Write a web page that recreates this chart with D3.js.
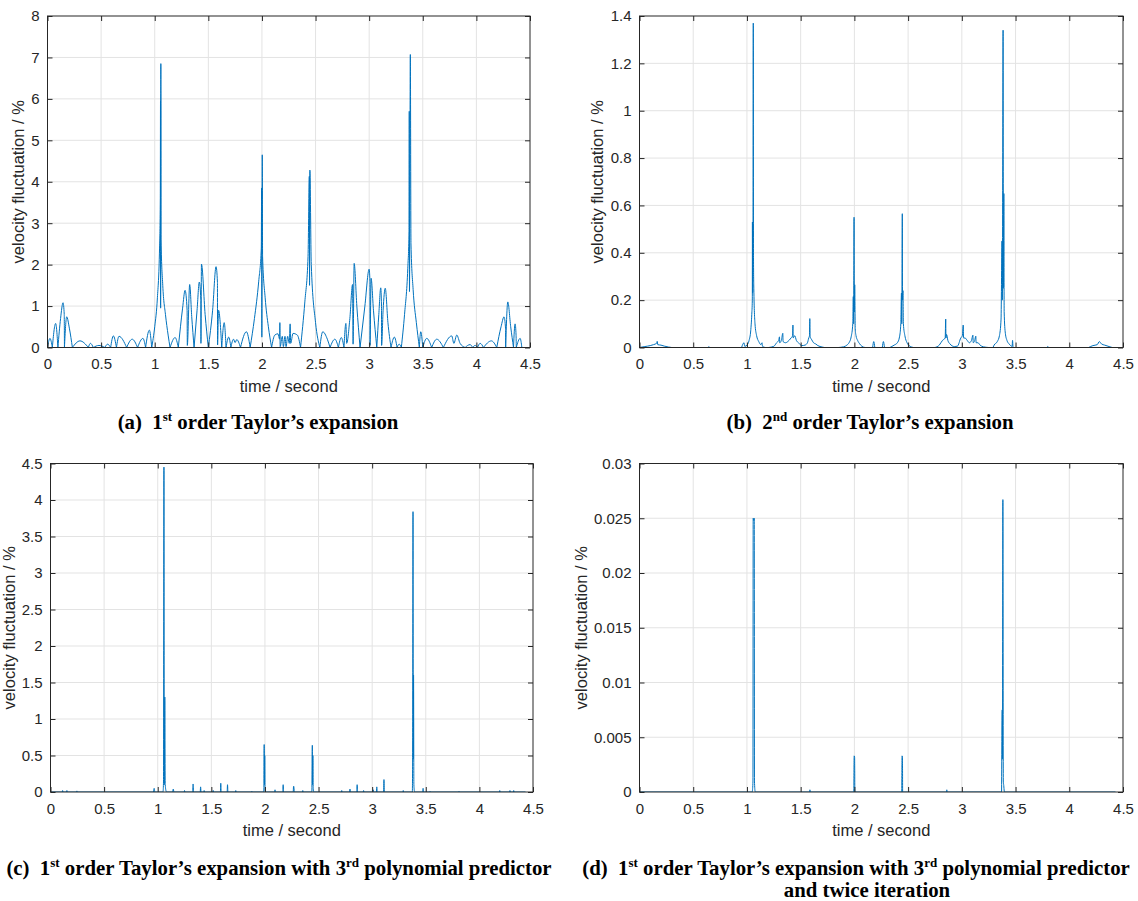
<!DOCTYPE html>
<html>
<head>
<meta charset="utf-8">
<script src="https://cdn.jsdelivr.net/npm/d3@7"></script>
<style>
  body { margin: 0; background: #fff; }
  svg text { font-family: "Liberation Sans", Arial, Helvetica, sans-serif; fill: #262626; }
  svg text.caption { font-family: "Liberation Serif", "Times New Roman", serif; font-weight: bold; fill: #000; white-space: pre; }
</style>
</head>
<body>
<svg id="chart" width="1138" height="901"></svg>
<script>
// ---- tick values ----
const timeTicks = [0, 0.5, 1, 1.5, 2, 2.5, 3, 3.5, 4, 4.5];
const ticksA = [0, 1, 2, 3, 4, 5, 6, 7, 8];
const ticksB = [0, 0.2, 0.4, 0.6, 0.8, 1, 1.2, 1.4];
const ticksC = [0, 0.5, 1, 1.5, 2, 2.5, 3, 3.5, 4, 4.5];
const ticksD = [0, 0.005, 0.01, 0.015, 0.02, 0.025, 0.03];

// ---- velocity fluctuation series: [time (s), fluctuation (%)] ----
// (a) 1st order Taylor's expansion
const seriesA = [
  [0,0],[0.023,0.22],[0.045,0],
  [0.076,0.58],[0.097,0],
  [0.122,0.7],[0.145,1.08],[0.156,0.8],[0.158,0],
  [0.179,0.74],[0.205,0.45],[0.232,0],
  [0.303,0.16],[0.381,0],
  [0.40,0.1],[0.427,0],
  [0.48,0.05],[0.536,0],
  [0.56,0.08],[0.589,0],
  [0.614,0.28],[0.643,0],
  [0.667,0.27],[0.738,0],
  [0.79,0.2],[0.84,0],
  [0.89,0.22],[0.915,0],
  [0.95,0.42],[0.972,0],
  [1.0,0.5],[1.025,1.2],[1.045,2.4],[1.052,3.6],[1.054,5.95],[1.055,0.95],[1.057,6.85],[1.059,2.6],[1.075,1.5],[1.1,0.8],[1.125,0.3],[1.143,0],
  [1.19,0.24],[1.22,0],
  [1.26,0.95],[1.283,1.38],[1.302,0.9],[1.304,0.05],[1.326,1.52],[1.345,0.75],[1.367,0],
  [1.395,0.9],[1.416,1.58],[1.43,1.15],[1.431,0.1],[1.436,2.01],[1.47,0.8],[1.5,0],
  [1.54,0.9],[1.572,1.95],[1.585,1.57],[1.586,0.06],[1.595,0.9],[1.625,0],
  [1.648,0.6],[1.665,0],
  [1.69,0.25],[1.71,0],
  [1.735,0.2],[1.75,0.12],[1.765,0.19],[1.8,0],
  [1.855,0.38],[1.89,0],
  [1.93,0.7],[1.97,1.6],[1.994,2.4],[1.997,3.85],[1.999,0.25],[2.003,4.65],[2.006,2.2],[2.03,1.2],[2.06,0.5],[2.09,0],
  [2.12,0.3],[2.15,0.33],[2.165,0.2],[2.167,0.6],[2.17,0.02],[2.19,0.27],[2.2,0.02],[2.215,0.27],[2.225,0.02],[2.24,0.27],[2.255,0.1],[2.263,0.57],[2.268,0.1],[2.29,0.34],[2.33,0.3],[2.36,0],
  [2.4,1.1],[2.43,2.2],[2.442,4.13],[2.444,1.5],[2.447,4.28],[2.46,2.0],[2.5,0.6],[2.54,0],
  [2.567,0.38],[2.61,0.2],[2.635,0],
  [2.68,0.2],[2.713,0],
  [2.74,0.24],[2.765,0],
  [2.783,0.58],[2.79,0.1],[2.82,0.7],[2.845,1.52],[2.85,0.08],[2.86,2.03],[2.885,1.0],[2.915,0],
  [2.96,1.0],[3.0,1.89],[3.007,1.6],[3.008,0.05],[3.018,1.67],[3.04,0.9],[3.071,0],
  [3.09,0.8],[3.108,1.44],[3.115,1.0],[3.116,0.05],[3.13,0.9],[3.15,1.43],[3.175,0.6],[3.204,0],
  [3.235,0.25],[3.26,0],
  [3.28,0.08],[3.3,0],
  [3.33,0.8],[3.36,1.9],[3.372,2.8],[3.374,5.7],[3.376,1.35],[3.384,7.07],[3.39,2.5],[3.41,1.4],[3.44,0.6],[3.468,0],
  [3.481,0.38],[3.5,0],
  [3.537,0.22],[3.583,0],
  [3.63,0.2],[3.692,0],
  [3.77,0.28],[3.79,0.1],[3.817,0.3],[3.848,0.1],[3.895,0],
  [3.941,0.07],[3.965,0],
  [3.988,0.05],[4.01,0],
  [4.035,0.1],[4.066,0],
  [4.14,0.16],[4.19,0],
  [4.23,0.5],[4.258,0.74],[4.272,0.45],[4.273,0],
  [4.293,1.1],[4.32,0.5],[4.346,0],
  [4.361,0.57],[4.37,0.3],[4.372,0],
  [4.408,0.22],[4.424,0]
];

// (b) 2nd order Taylor's expansion
const seriesB = [
  [0,0],[0.05,0.004],[0.1,0.008],[0.13,0.012],[0.16,0.018],[0.165,0.026],[0.17,0.012],[0.2,0.01],[0.23,0.006],[0.27,0.002],[0.3,0],
  [0.64,0],[0.645,0.004],[0.65,0],
  [0.95,0],[0.973,0.02],[0.98,0.005],[1.0,0.01],[1.02,0.03],[1.035,0.07],[1.045,0.14],[1.05,0.2],[1.051,0.53],[1.053,0.23],[1.056,0.3],[1.059,1.37],[1.061,0.38],[1.064,0.25],[1.075,0.1],[1.09,0.05],[1.11,0.025],[1.13,0.012],[1.14,0.02],[1.145,0.005],[1.17,0],
  [1.2,0],[1.25,0.005],[1.276,0.02],[1.295,0.03],[1.303,0.045],[1.305,0.02],[1.32,0.03],[1.334,0.06],[1.336,0.025],[1.36,0.02],[1.38,0.025],[1.41,0.04],[1.425,0.05],[1.428,0.095],[1.43,0.04],[1.445,0.05],[1.46,0.03],[1.48,0.02],[1.51,0.008],[1.54,0.01],[1.563,0.02],[1.575,0.04],[1.582,0.05],[1.585,0.122],[1.588,0.045],[1.6,0.035],[1.62,0.02],[1.64,0.015],[1.66,0.008],[1.7,0.002],[1.72,0],
  [1.85,0],[1.9,0.003],[1.93,0.01],[1.95,0.02],[1.97,0.045],[1.985,0.1],[1.99,0.215],[1.993,0.1],[1.997,0.55],[1.999,0.15],[2.003,0.265],[2.008,0.08],[2.015,0.05],[2.03,0.03],[2.05,0.015],[2.07,0.005],[2.1,0],
  [2.17,0],[2.18,0.025],[2.19,0],[2.26,0],[2.27,0.025],[2.28,0],
  [2.33,0],[2.37,0.01],[2.4,0.02],[2.42,0.045],[2.432,0.1],[2.438,0.23],[2.441,0.1],[2.446,0.565],[2.448,0.2],[2.452,0.24],[2.456,0.1],[2.47,0.05],[2.49,0.02],[2.51,0.008],[2.55,0],
  [2.75,0],[2.79,0.01],[2.82,0.03],[2.845,0.04],[2.85,0.12],[2.852,0.04],[2.858,0.055],[2.87,0.03],[2.89,0.015],[2.93,0.004],[2.96,0.006],[2.99,0.04],[3.005,0.05],[3.013,0.095],[3.016,0.04],[3.03,0.04],[3.05,0.03],[3.07,0.02],[3.09,0.03],[3.103,0.052],[3.106,0.02],[3.12,0.03],[3.13,0.048],[3.133,0.02],[3.15,0.02],[3.17,0.01],[3.2,0.003],[3.25,0],
  [3.29,0],[3.3,0.01],[3.33,0.025],[3.35,0.05],[3.365,0.12],[3.374,0.45],[3.377,0.2],[3.384,1.34],[3.387,0.25],[3.391,0.65],[3.394,0.15],[3.405,0.06],[3.42,0.03],[3.44,0.015],[3.468,0.005],[3.472,0.03],[3.476,0],
  [3.79,0],[3.8,0.004],[3.81,0],
  [4.18,0],[4.22,0.008],[4.26,0.012],[4.28,0.025],[4.3,0.015],[4.33,0.01],[4.37,0.004],[4.4,0],[4.43,0]
];

// (c) 1st order Taylor's expansion with 3rd polynomial predictor
const seriesC = [
  [0,0],[0.11,0],[0.113,0.02],[0.116,0],[0.15,0],[0.153,0.02],[0.156,0],[0.243,0],[0.246,0.015],[0.249,0],
  [0.96,0],[0.967,0.05],[0.972,0],
  [1.05,0],[1.054,0.15],[1.058,4.45],[1.061,0.1],[1.066,1.3],[1.07,0.1],[1.08,0],
  [1.14,0],[1.145,0.04],[1.15,0],[1.247,0],[1.25,0.02],[1.253,0],[1.327,0],[1.33,0.11],[1.333,0],[1.397,0],[1.4,0.07],[1.403,0],
  [1.43,0],[1.433,0.02],[1.436,0],[1.515,0],[1.518,0.02],[1.521,0],[1.585,0],[1.588,0.12],[1.591,0],[1.648,0],[1.651,0.1],[1.654,0],
  [1.725,0],[1.728,0.02],[1.731,0],[1.874,0],[1.877,0.01],[1.88,0],
  [1.99,0],[1.993,0.65],[1.996,0.1],[1.998,0.5],[2.001,0.05],[2.005,0],
  [2.09,0],[2.094,0.03],[2.098,0],[2.167,0],[2.17,0.1],[2.173,0],[2.264,0],[2.267,0.08],[2.27,0.07],[2.273,0],[2.35,0],[2.353,0.02],[2.356,0],
  [2.438,0],[2.442,0.64],[2.444,0.1],[2.447,0.5],[2.45,0.05],[2.455,0],
  [2.713,0],[2.716,0.02],[2.719,0],[2.79,0],[2.793,0.04],[2.796,0],[2.857,0],[2.86,0.1],[2.863,0],[2.917,0],[2.92,0.02],[2.923,0],
  [3.007,0],[3.01,0.03],[3.013,0],[3.04,0],[3.043,0.07],[3.046,0],[3.107,0],[3.11,0.17],[3.113,0],[3.287,0],[3.29,0.02],[3.293,0],
  [3.375,0],[3.378,0.7],[3.381,3.84],[3.383,0.45],[3.386,1.6],[3.389,0.1],[3.395,0],
  [3.472,0],[3.475,0.05],[3.478,0],[3.537,0],[3.54,0.01],[3.543,0],[3.807,0],[3.81,0.01],[3.813,0],
  [4.187,0],[4.19,0.02],[4.193,0],[4.282,0],[4.285,0.02],[4.288,0],[4.317,0],[4.32,0.02],[4.323,0],[4.43,0]
];

// (d) 1st order Taylor's expansion with 3rd polynomial predictor and twice iteration
const seriesD = [
  [0,0],[1.05,0],[1.056,0.001],[1.058,0.025],[1.063,0.0248],[1.068,0.025],[1.07,0.001],[1.076,0],
  [1.585,0],[1.586,0.0002],[1.588,0],
  [1.995,0],[1.998,0.0033],[2.002,0.0032],[2.004,0],
  [2.441,0],[2.444,0.0033],[2.447,0.0032],[2.449,0],
  [2.858,0],[2.86,0.0002],[2.862,0],
  [3.37,0],[3.376,0.0075],[3.378,0.003],[3.382,0.0267],[3.386,0.001],[3.39,0.0006],[3.395,0],[4.43,0]
];

// ---- panel layout ----
const panels = [
  { series: seriesA, yTicks: ticksA, x0: 47.5, x1: 530, y0: 16, y1: 347.5, yTitleX: 18,
    caption: [[{t: "(a)  1"}, {t: "st", sup: true}, {t: " order Taylor’s expansion"}]], capX: [258], capY: 429 },
  { series: seriesB, yTicks: ticksB, x0: 639.5, x1: 1123, y0: 16, y1: 347.5, yTitleX: 597.5,
    caption: [[{t: "(b)  2"}, {t: "nd", sup: true}, {t: " order Taylor’s expansion"}]], capX: [870], capY: 429 },
  { series: seriesC, yTicks: ticksC, x0: 50.5, x1: 533, y0: 463.5, y1: 792, yTitleX: 9,
    caption: [[{t: "(c)  1"}, {t: "st", sup: true}, {t: " order Taylor’s expansion with 3"}, {t: "rd", sup: true}, {t: " polynomial predictor"}]], capX: [279], capY: 875 },
  { series: seriesD, yTicks: ticksD, x0: 639.5, x1: 1123, y0: 463.5, y1: 792, yTitleX: 581.5,
    caption: [[{t: "(d)  1"}, {t: "st", sup: true}, {t: " order Taylor’s expansion with 3"}, {t: "rd", sup: true}, {t: " polynomial predictor"}],
              [{t: "and twice iteration"}]], capX: [856, 867], capY: 875 }
];

const svg = d3.select("#chart");
const LINE = "#0072BD", AXIS = "#262626", GRID = "#e3e3e3", TICK = 5;
const fmt = v => String(+v.toFixed(6));

// break a series at its zero samples so every lobe gets its own monotone piece
function lobes(pts) {
  const out = [];
  let cur = [pts[0]];
  for (let i = 1; i < pts.length; i++) {
    cur.push(pts[i]);
    if (pts[i][1] === 0 && i < pts.length - 1) { out.push(cur); cur = [pts[i]]; }
  }
  if (cur.length > 1) out.push(cur);
  return out;
}

panels.forEach((p, i) => {
  const x = d3.scaleLinear().domain([0, 4.5]).range([p.x0, p.x1]);
  const yMax = p.yTicks[p.yTicks.length - 1];
  const y = d3.scaleLinear().domain([0, yMax]).range([p.y1, p.y0]);
  const g = svg.append("g");

  // grid
  g.append("g").selectAll("line").data(timeTicks.slice(1, -1)).join("line")
    .attr("x1", d => x(d)).attr("x2", d => x(d)).attr("y1", p.y0).attr("y2", p.y1)
    .attr("stroke", GRID).attr("stroke-width", 1);
  g.append("g").selectAll("line").data(p.yTicks.slice(1, -1)).join("line")
    .attr("x1", p.x0).attr("x2", p.x1).attr("y1", d => y(d)).attr("y2", d => y(d))
    .attr("stroke", GRID).attr("stroke-width", 1);

  // data line
  const clipId = "clip" + i;
  g.append("clipPath").attr("id", clipId).append("rect")
    .attr("x", p.x0).attr("y", p.y0 - 1).attr("width", p.x1 - p.x0).attr("height", p.y1 - p.y0 + 1);
  const line = d3.line().x(d => x(d[0])).y(d => y(d[1])).curve(d3.curveMonotoneX);
  g.append("path")
    .attr("clip-path", `url(#${clipId})`)
    .attr("d", lobes(p.series).map(s => line(s)).join(""))
    .attr("fill", "none").attr("stroke", LINE).attr("stroke-width", 1)
    .attr("stroke-linejoin", "round");

  // axes with inward ticks on all four sides
  const axB = d3.axisBottom(x).tickValues(timeTicks).tickFormat(fmt).tickSize(-TICK).tickSizeOuter(0).tickPadding(11);
  const axT = d3.axisTop(x).tickValues(timeTicks).tickFormat("").tickSize(-TICK).tickSizeOuter(0);
  const axL = d3.axisLeft(y).tickValues(p.yTicks).tickFormat(fmt).tickSize(-TICK).tickSizeOuter(0).tickPadding(8);
  const axR = d3.axisRight(y).tickValues(p.yTicks).tickFormat("").tickSize(-TICK).tickSizeOuter(0);
  const style = sel => {
    sel.select(".domain").remove();
    sel.selectAll(".tick line").attr("stroke", AXIS);
    sel.selectAll("text").attr("fill", AXIS).style("font-size", "15px")
      .style("font-family", '"Liberation Sans", Arial, sans-serif');
  };
  g.append("g").attr("transform", `translate(0,${p.y1})`).call(axB).call(style);
  g.append("g").attr("transform", `translate(0,${p.y0})`).call(axT).call(style);
  g.append("g").attr("transform", `translate(${p.x0},0)`).call(axL).call(style);
  g.append("g").attr("transform", `translate(${p.x1},0)`).call(axR).call(style);
  g.append("rect").attr("x", p.x0).attr("y", p.y0).attr("width", p.x1 - p.x0).attr("height", p.y1 - p.y0)
    .attr("fill", "none").attr("stroke", AXIS).attr("stroke-width", 1);

  // axis titles
  g.append("text").attr("x", (p.x0 + p.x1) / 2).attr("y", p.y1 + 44)
    .attr("text-anchor", "middle").style("font-size", "16.5px").text("time / second");
  g.append("text").attr("transform", `translate(${p.yTitleX},${(p.y0 + p.y1) / 2}) rotate(-90)`)
    .attr("dy", "0.35em").attr("text-anchor", "middle").style("font-size", "16.5px")
    .text("velocity fluctuation / %");

  // caption
  p.caption.forEach((parts, li) => {
    const t = svg.append("text").attr("class", "caption")
      .attr("x", p.capX[li]).attr("y", p.capY + li * 22)
      .attr("text-anchor", "middle").style("font-size", "20.8px");
    let raised = false;
    parts.forEach(part => {
      const ts = t.append("tspan").text(part.t);
      if (part.sup && !raised) { ts.attr("dy", -8).style("font-size", "13px"); raised = true; }
      else if (!part.sup && raised) { ts.attr("dy", 8); raised = false; }
    });
  });
});
</script>
</body>
</html>
